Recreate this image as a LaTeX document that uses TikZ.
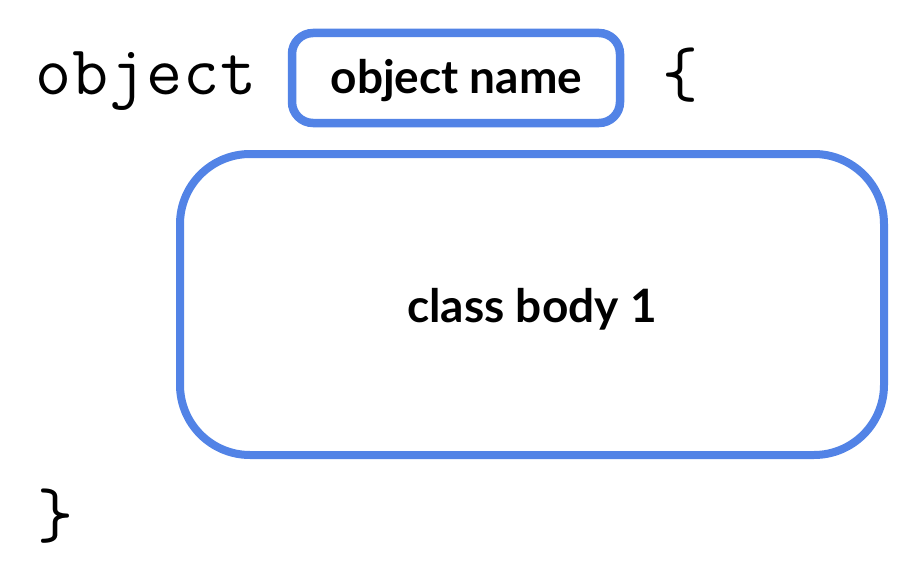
\documentclass[tikz,border=0pt]{standalone}
\usepackage{fontspec}
\setmainfont{Lato}
\newfontfamily\codefont{Latin Modern Mono}[LetterSpace=1.5]
\definecolor{boxblue}{HTML}{5283E6}
\tikzset{
  roundbox/.style={draw=boxblue, line width=8pt, fill=white, inner sep=0pt},
  labeltext/.style={font=\fontsize{46}{50}\selectfont\bfseries, text=black},
  codetext/.style={font=\fontsize{70}{74}\selectfont\codefont, text=black, inner sep=0pt},
}
\begin{document}
\begin{tikzpicture}[x=1pt, y=-1pt]
  \useasboundingbox (0,0) rectangle (924,578);
  \node[codetext, anchor=base west] (kw) at (35,95) {object};
  \node[roundbox, line width=8.5pt, rounded corners=21pt, minimum width=328pt, minimum height=90pt] (name) at (456,78) {};
  \node[labeltext, anchor=base] (nametext) at (456.5,94) {object name};
  \node[codetext, anchor=base west] (open) at (662,96) {\{};
  \node[roundbox, rounded corners=70pt, minimum width=704pt, minimum height=301pt] (body) at (532,304.5) {};
  \node[labeltext, anchor=base] (bodytext) at (532,322) {class body 1};
  \node[codetext, anchor=base west] (close) at (37,537) {\}};
\end{tikzpicture}
\end{document}
